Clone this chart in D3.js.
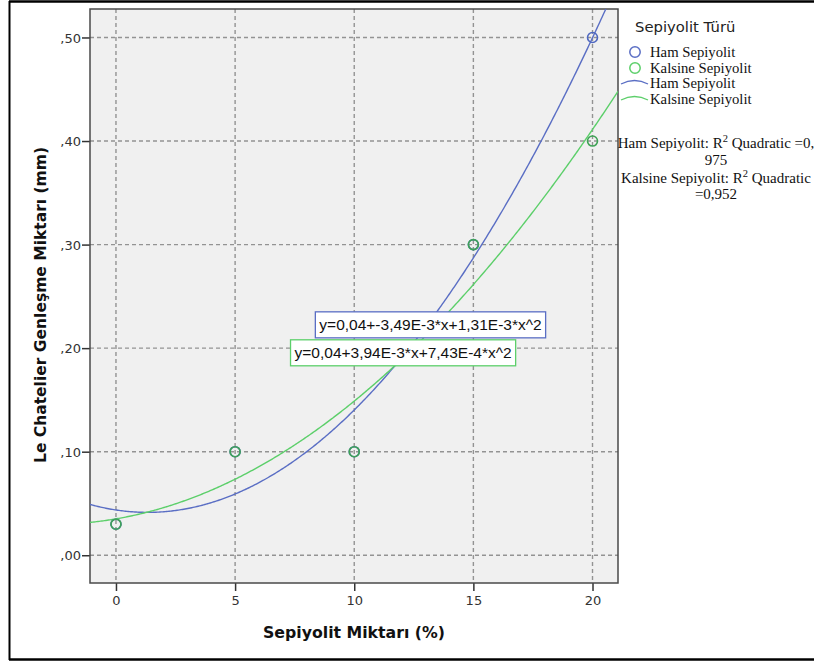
<!DOCTYPE html>
<html>
<head>
<meta charset="utf-8">
<script src="https://cdn.jsdelivr.net/npm/d3@7"></script>
<style>
  html, body { margin: 0; padding: 0; background: #fff; }
  svg { display: block; }
</style>
</head>
<body>
<svg id="chart" width="814" height="665"></svg>
<script>
// Sepiyolit amount (%) on the x axis
const dosages = [0, 5, 10, 15, 20];
// Le Chatelier expansion (mm) per sepiolite type
const hamValues = [0.03, 0.10, 0.10, 0.30, 0.50];
const kalsineValues = [0.03, 0.10, 0.10, 0.30, 0.40];
const seriesNames = ["Ham Sepiyolit", "Kalsine Sepiyolit"];
const xTicks = [0, 5, 10, 15, 20];
const yTicks = [0, 0.1, 0.2, 0.3, 0.4, 0.5];

const BLUE = "#5a6ec4", GREEN = "#5ccf6a", GREEN_MARK = "#3fa356", BLUE_MARK = "#4f68c0";

const svg = d3.select("#chart");
const plot = { left: 90, top: 9, right: 618, bottom: 583 };

const x = d3.scaleLinear().domain([-1.09, 21.07]).range([plot.left, plot.right]);
const y = d3.scaleLinear().domain([-0.0268, 0.5275]).range([plot.bottom, plot.top]);

// least-squares quadratic fit y = a + b x + c x^2
function quadFit(xs, ys) {
  let S = [0, 0, 0, 0, 0], T = [0, 0, 0];
  xs.forEach((xi, i) => {
    for (let k = 0; k < 5; k++) S[k] += Math.pow(xi, k);
    for (let k = 0; k < 3; k++) T[k] += Math.pow(xi, k) * ys[i];
  });
  const M = [[S[0], S[1], S[2], T[0]], [S[1], S[2], S[3], T[1]], [S[2], S[3], S[4], T[2]]];
  for (let i = 0; i < 3; i++) {
    for (let j = i + 1; j < 3; j++) {
      const f = M[j][i] / M[i][i];
      for (let k = i; k < 4; k++) M[j][k] -= f * M[i][k];
    }
  }
  const c = [0, 0, 0];
  for (let i = 2; i >= 0; i--) {
    let s = M[i][3];
    for (let k = i + 1; k < 3; k++) s -= M[i][k] * c[k];
    c[i] = s / M[i][i];
  }
  const mean = d3.mean(ys);
  const ssTot = d3.sum(ys, v => (v - mean) ** 2);
  const ssRes = d3.sum(xs, (xi, i) => (ys[i] - (c[0] + c[1] * xi + c[2] * xi * xi)) ** 2);
  return { a: c[0], b: c[1], c: c[2], r2: 1 - ssRes / ssTot };
}

const fits = [quadFit(dosages, hamValues), quadFit(dosages, kalsineValues)];

// coefficient text in the SPSS style: 0,04 / -3,49E-3
function coef(v) {
  if (Math.abs(v) >= 0.01) return v.toFixed(2).replace(".", ",");
  const e = Math.floor(Math.log10(Math.abs(v)));
  const m = v / Math.pow(10, e);
  return m.toFixed(2).replace(".", ",") + "E" + e;
}
function eqText(f) {
  return "y=" + coef(f.a) + "+" + coef(f.b) + "*x+" + coef(f.c) + "*x^2";
}
function r2Text(v) { return v.toFixed(3).replace(/^0\./, "0,"); }

// outer frame
svg.append("line").attr("x1", 9).attr("x2", 814).attr("y1", 1.5).attr("y2", 1.5).attr("stroke", "#000").attr("stroke-width", 2.5);
svg.append("line").attr("x1", 9.5).attr("x2", 9.5).attr("y1", 1).attr("y2", 660).attr("stroke", "#000").attr("stroke-width", 2);
svg.append("line").attr("x1", 9).attr("x2", 814).attr("y1", 659.5).attr("y2", 659.5).attr("stroke", "#000").attr("stroke-width", 2.5);

// plot background
svg.append("rect").attr("x", plot.left).attr("y", plot.top)
  .attr("width", plot.right - plot.left).attr("height", plot.bottom - plot.top)
  .attr("fill", "#f0f0f0");

svg.append("clipPath").attr("id", "clip").append("rect")
  .attr("x", plot.left).attr("y", plot.top)
  .attr("width", plot.right - plot.left).attr("height", plot.bottom - plot.top);

// grid
const grid = svg.append("g").attr("stroke", "#939393").attr("stroke-width", 1.4).attr("stroke-dasharray", "4,3");
grid.selectAll("line.v").data(xTicks).join("line").attr("class", "v")
  .attr("x1", d => x(d)).attr("x2", d => x(d)).attr("y1", plot.top).attr("y2", plot.bottom);
grid.selectAll("line.h").data(yTicks).join("line").attr("class", "h")
  .attr("y1", d => y(d)).attr("y2", d => y(d)).attr("x1", plot.left).attr("x2", plot.right);

// axes
const yAxis = d3.axisLeft(y).tickValues(yTicks).tickSize(8).tickSizeOuter(0)
  .tickFormat(d => "," + d3.format(".2f")(d).split(".")[1]);
const gy = svg.append("g").attr("transform", `translate(${plot.left},0)`).call(yAxis);
const xAxis = d3.axisBottom(x).tickValues(xTicks).tickSize(8).tickSizeOuter(0).tickFormat(d3.format("d"));
const gx = svg.append("g").attr("transform", `translate(0,${plot.bottom})`).call(xAxis);
[gx, gy].forEach(g => {
  g.select(".domain").remove();
  g.selectAll(".tick line").attr("stroke", "#333").attr("stroke-width", 1.5);
  g.selectAll(".tick text").attr("fill", "#333").attr("font-family", "'DejaVu Sans', sans-serif").attr("font-size", 13);
});
gy.selectAll(".tick text").attr("x", -9).attr("dy", "0.35em");
gx.selectAll(".tick text").attr("y", 13);

// plot border
svg.append("rect").attr("x", plot.left).attr("y", plot.top)
  .attr("width", plot.right - plot.left).attr("height", plot.bottom - plot.top)
  .attr("fill", "none").attr("stroke", "#4a4a4a").attr("stroke-width", 1.5);

// fitted curves
const xsCurve = d3.range(0, 401).map(i => x.domain()[0] + (x.domain()[1] - x.domain()[0]) * i / 400);
const line = d3.line().x(d => x(d[0])).y(d => y(d[1]));
const curveColors = [BLUE, GREEN];
const curves = svg.append("g").attr("clip-path", "url(#clip)");
fits.forEach((f, i) => {
  curves.append("path")
    .attr("d", line(xsCurve.map(v => [v, f.a + f.b * v + f.c * v * v])))
    .attr("fill", "none").attr("stroke", curveColors[i]).attr("stroke-width", 1.4);
});

// data markers (Kalsine drawn on top)
const markColors = [BLUE_MARK, GREEN_MARK];
[hamValues, kalsineValues].forEach((vals, i) => {
  svg.append("g").selectAll("circle").data(vals).join("circle")
    .attr("cx", (d, j) => x(dosages[j])).attr("cy", d => y(d)).attr("r", 5)
    .attr("fill", "none").attr("stroke", markColors[i]).attr("stroke-width", 1.6);
});

// equation labels anchored in data space
const eqAnchors = [[13.2, 0.2225], [12.05, 0.1955]];
fits.forEach((f, i) => {
  const g = svg.append("g").attr("transform", `translate(${x(eqAnchors[i][0])},${y(eqAnchors[i][1])})`);
  const t = g.append("text").text(eqText(f))
    .attr("text-anchor", "middle").attr("dy", "0.36em")
    .attr("font-family", "'Liberation Sans', Arial, sans-serif").attr("font-size", 15.5).attr("fill", "#111");
  const bb = t.node().getBBox();
  g.insert("rect", "text").attr("x", bb.x - 4).attr("y", -13).attr("width", bb.width + 8).attr("height", 26)
    .attr("fill", "#fff").attr("stroke", curveColors[i]).attr("stroke-width", 1.3);
});

// axis titles
svg.append("text").text("Sepiyolit Miktarı (%)")
  .attr("x", 354).attr("y", 638).attr("text-anchor", "middle")
  .attr("font-family", "'DejaVu Sans', sans-serif").attr("font-weight", "bold").attr("font-size", 15.5)
  .attr("textLength", 182).attr("lengthAdjust", "spacingAndGlyphs")
  .attr("fill", "#111");
svg.append("text").text("Le Chatelier Genleşme Miktarı (mm)")
  .attr("transform", "translate(46,305) rotate(-90)").attr("text-anchor", "middle")
  .attr("font-family", "'DejaVu Sans', sans-serif").attr("font-weight", "bold").attr("font-size", 15.5)
  .attr("textLength", 316).attr("lengthAdjust", "spacingAndGlyphs")
  .attr("fill", "#111");

// legend
const serif = "'Liberation Serif', 'Times New Roman', serif";
const LF = 14.7;
svg.append("text").text("Sepiyolit Türü").attr("x", 635).attr("y", 32)
  .attr("font-family", "'DejaVu Sans', sans-serif").attr("font-size", 14.8).attr("fill", "#222");
seriesNames.forEach((name, i) => {
  const cy = 52 + i * 16;
  svg.append("circle").attr("cx", 635).attr("cy", cy).attr("r", 5.2)
    .attr("fill", "none").attr("stroke", curveColors[i]).attr("stroke-width", 1.5);
  svg.append("text").text(name).attr("x", 650).attr("y", cy + 4.5)
    .attr("font-family", serif).attr("font-size", LF).attr("fill", "#111");
});
seriesNames.forEach((name, i) => {
  const ly = 84 + i * 16;
  svg.append("path").attr("d", `M621,${ly} Q634.5,${ly - 7} 648,${ly}`)
    .attr("fill", "none").attr("stroke", curveColors[i]).attr("stroke-width", 1.4);
  svg.append("text").text(name).attr("x", 650).attr("y", ly + 4)
    .attr("font-family", serif).attr("font-size", LF).attr("fill", "#111");
});

// R² notes
function r2Line(yPos, before, after) {
  const t = svg.append("text").attr("x", 716).attr("y", yPos).attr("text-anchor", "middle")
    .attr("font-family", serif).attr("font-size", 15).attr("fill", "#111");
  t.append("tspan").text(before);
  t.append("tspan").text("2").attr("font-size", 10.5).attr("dy", -6);
  t.append("tspan").text(after).attr("dy", 6);
}
const r2Strs = fits.map(f => r2Text(f.r2));
r2Line(148, seriesNames[0] + ": R", " Quadratic =" + r2Strs[0].slice(0, 2));
svg.append("text").text(r2Strs[0].slice(2)).attr("x", 716).attr("y", 165).attr("text-anchor", "middle")
  .attr("font-family", serif).attr("font-size", 15).attr("fill", "#111");
r2Line(183, seriesNames[1] + ": R", " Quadratic");
svg.append("text").text("=" + r2Strs[1]).attr("x", 716).attr("y", 199).attr("text-anchor", "middle")
  .attr("font-family", serif).attr("font-size", 15).attr("fill", "#111");
</script>
</body>
</html>
